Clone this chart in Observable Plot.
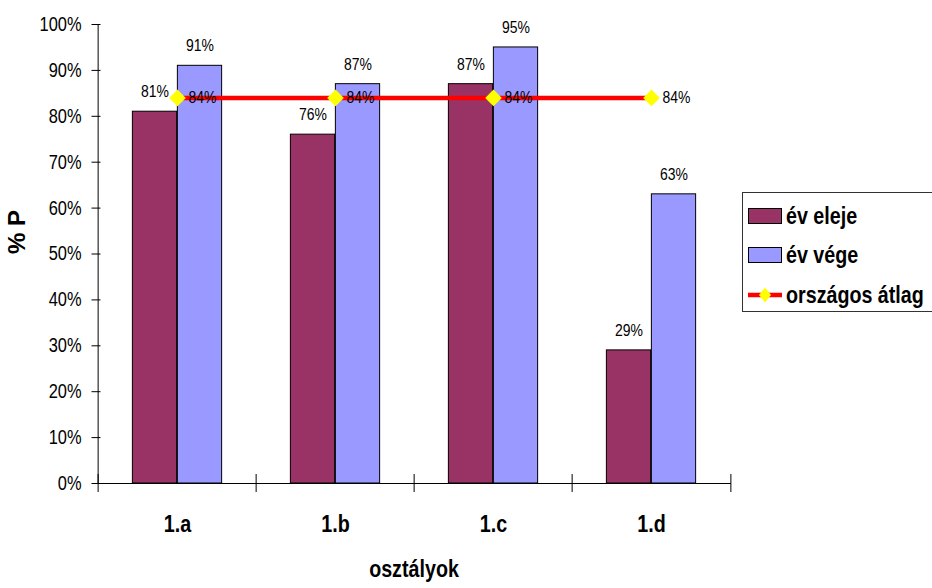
<!DOCTYPE html>
<html>
<head>
<meta charset="utf-8">
<script src="https://cdn.jsdelivr.net/npm/d3@7"></script>
<script src="https://cdn.jsdelivr.net/npm/@observablehq/plot@0.6"></script>
<style>
  html, body { margin: 0; padding: 0; background: #fff; }
  #wrap { position: relative; width: 932px; height: 588px; overflow: hidden; font-family: "Liberation Sans", Arial, sans-serif; }
  #legend { position: absolute; left: 742px; top: 192px; width: 200px; height: 120px; border: 1.5px solid #333; box-sizing: border-box; background: #fff; }
  .item { position: absolute; left: 5px; display: flex; align-items: center; font-weight: bold; font-size: 24px; color: #000; white-space: nowrap; }
  .item svg { margin-right: 4px; flex: none; }
  .item span { display: inline-block; transform: scaleX(0.82); transform-origin: 0 50%; }
</style>
</head>
<body>
<div id="wrap"></div>
<script>
const classes = ["1.a", "1.b", "1.c", "1.d"];
const evEleje = [81, 76, 87, 29];
const evVege = [91, 87, 95, 63];
const orszagosAtlag = [84, 84, 84, 84];
const yTicks = [0, 10, 20, 30, 40, 50, 60, 70, 80, 90, 100];
const seriesNames = ["év eleje", "év vége", "országos átlag"];
const colors = ["#993366", "#9999FF", "#FF0000", "#FFFF00"];

const W = 932, H = 588, mL = 96, mR = 201, mT = 24, mB = 105;
const bw = (W - mL - mR) / classes.length;
const barW = 45;

const data = classes.map((c, i) => ({cls: c, eleje: evEleje[i], vege: evVege[i], atlag: orszagosAtlag[i]}));
const fmt = d => d + "%";
const font = "'Liberation Sans', Arial, sans-serif";

const chart = Plot.plot({
  width: W, height: H,
  marginLeft: mL, marginRight: mR, marginTop: mT, marginBottom: mB,
  style: {fontFamily: font, background: "#fff", color: "#000", overflow: "visible"},
  x: {domain: classes, padding: 0},
  y: {domain: [0, 100]},
  marks: [
    Plot.barY(data, {x: "cls", y: "eleje", fill: colors[0], stroke: "#000", strokeWidth: 1,
      insetLeft: bw / 2 - barW, insetRight: bw / 2}),
    Plot.barY(data, {x: "cls", y: "vege", fill: colors[1], stroke: "#000", strokeWidth: 1,
      insetLeft: bw / 2, insetRight: bw / 2 - barW}),
    Plot.ruleY([0], {stroke: "#000", strokeWidth: 1}),
    Plot.ruleX([classes[0]], {dx: -bw / 2, y1: 0, y2: 100, stroke: "#000", strokeWidth: 1}),
    Plot.ruleX(classes, {x: d => d, dx: -bw / 2, y1: 0, y2: 0, insetTop: -9, insetBottom: -9, stroke: "#000"}),
    Plot.ruleX([classes[classes.length - 1]], {x: d => d, dx: bw / 2, y1: 0, y2: 0, insetTop: -9, insetBottom: -9, stroke: "#000"}),
    Plot.axisY({ticks: yTicks, tickSize: 9, dx: 4.5, tickFormat: () => "", label: null, stroke: "#000"}),
    Plot.axisY({ticks: yTicks, tickSize: 0, tickPadding: 15, tickFormat: fmt, label: null, fontSize: 20, fill: "#000"}),
    Plot.axisX({tickSize: 0, tickPadding: 31, label: null, fontSize: 24, fontWeight: "bold", fill: "#000"}),
    Plot.line(data, {x: "cls", y: "atlag", stroke: colors[2], strokeWidth: 4.5}),
    Plot.dot(data, {x: "cls", y: "atlag", symbol: "diamond2", r: 7.5, fill: colors[3], stroke: "none"}),
    Plot.text(data, {x: "cls", y: "eleje", text: d => fmt(d.eleje), dx: -barW / 2, dy: -20, fontSize: 17, fill: "#000"}),
    Plot.text(data, {x: "cls", y: "vege", text: d => fmt(d.vege), dx: barW / 2, dy: -20, fontSize: 17, fill: "#000"}),
    Plot.text(data, {x: "cls", y: "atlag", text: d => fmt(d.atlag), dx: 11, textAnchor: "start", fontSize: 17, fill: "#000"}),
    Plot.text(["osztályok"], {frameAnchor: "bottom", text: d => d, dy: 93, fontSize: 24, fontWeight: "bold", fill: "#000"}),
    Plot.text(["% P"], {frameAnchor: "left", text: d => d, rotate: -90, dx: -79, fontSize: 24, fontWeight: "bold", fill: "#000",
      className: "ytitle"})
  ]
});

const wrap = document.getElementById("wrap");
wrap.appendChild(chart);

// condense horizontal text (narrow face), leave rotated title as is
chart.querySelectorAll("text").forEach(t => {
  if (t.closest(".ytitle")) return;
  const w = t.getComputedTextLength();
  if (w > 0) {
    t.setAttribute("textLength", (w * 0.82).toFixed(2));
    t.setAttribute("lengthAdjust", "spacingAndGlyphs");
  }
});

const legend = document.createElement("div");
legend.id = "legend";
const items = [
  {name: seriesNames[0], top: 13, sw: `<svg width="34" height="16"><rect x="0.5" y="0.5" width="33" height="15" fill="${colors[0]}" stroke="#000"/></svg>`},
  {name: seriesNames[1], top: 52, sw: `<svg width="34" height="16"><rect x="0.5" y="0.5" width="33" height="15" fill="${colors[1]}" stroke="#000"/></svg>`},
  {name: seriesNames[2], top: 92, sw: `<svg width="34" height="16"><line x1="0" y1="8" x2="34" y2="8" stroke="${colors[2]}" stroke-width="4.5"/><path d="M17,0.5 L23,8 L17,15.5 L11,8 Z" fill="${colors[3]}"/></svg>`}
];
for (const it of items) {
  const d = document.createElement("div");
  d.className = "item";
  d.style.top = (it.top - 4) + "px";
  d.innerHTML = it.sw + `<span>${it.name}</span>`;
  legend.appendChild(d);
}
wrap.appendChild(legend);
</script>
</body>
</html>
